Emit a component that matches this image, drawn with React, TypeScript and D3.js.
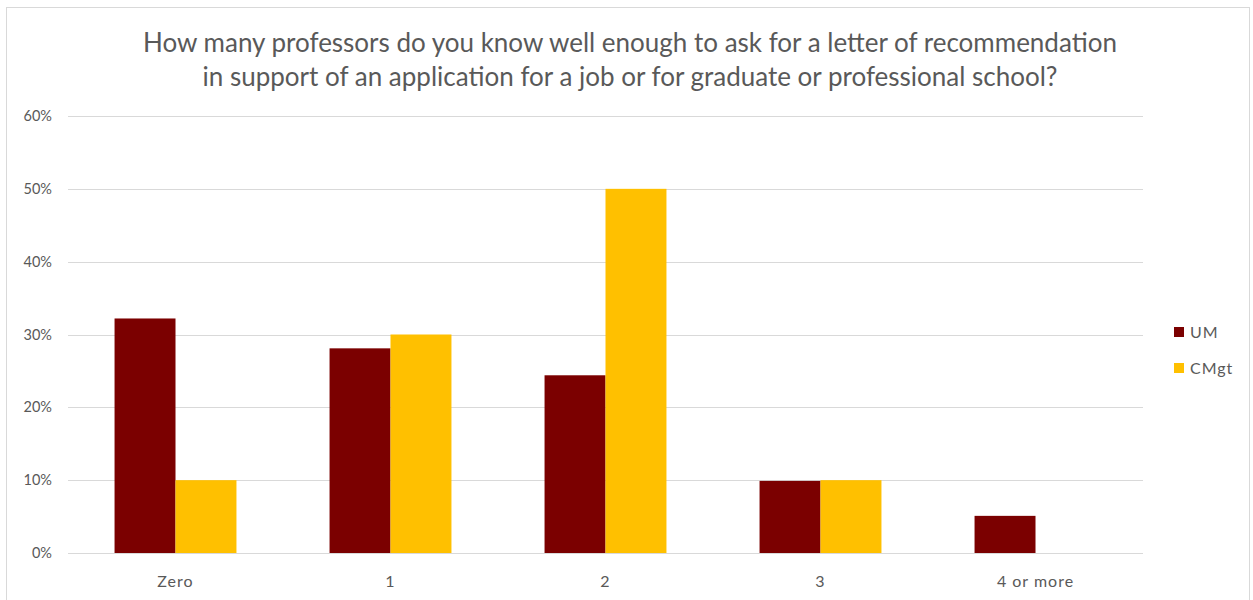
import * as d3 from 'd3';

const categories = ['Zero', '1', '2', '3', '4 or more'];
const seriesNames = ['UM', 'CMgt'];
const umValues = [0.322, 0.281, 0.244, 0.099, 0.051];
const cmgtValues = [0.1, 0.3, 0.5, 0.1, 0];
const yTicks = [0, 0.1, 0.2, 0.3, 0.4, 0.5, 0.6];
const titleLines = [
  'How many professors do you know well enough to ask for a letter of recommendation',
  'in support of an application for a job or for graduate or professional school?',
];
const colors = ['#7B0000', '#FFC000'];

const App = () => {
  const width = 1253;
  const height = 600;
  const left = 68;
  const right = 1143;
  const top = 116;
  const bottom = 553;

  const x = d3.scaleBand<string>()
    .domain(categories)
    .range([left, right])
    .paddingInner(0.433)
    .paddingOuter(0.2165);
  const xSeries = d3.scaleBand<string>()
    .domain(seriesNames)
    .range([0, x.bandwidth()]);
  const y = d3.scaleLinear().domain([0, 0.6]).range([bottom, top]);
  const fmt = d3.format('.0%');
  const series = [umValues, cmgtValues];
  const font = 'Lato, "Open Sans", sans-serif';

  return (
    <svg width={width} height={height} style={{ position: 'absolute', left: 0, top: 0 }} fontFamily={font}>
      <rect x={0} y={0} width={width} height={height} fill="#fff" />
      <rect x={6.5} y={7.5} width={1243} height={620} fill="#fff" stroke="#d9d9d9" />

      {titleLines.map((t, i) => (
        <text key={i} x={630} y={52 + i * 34} textAnchor="middle" fontSize={26} fill="#595959">{t}</text>
      ))}

      {yTicks.map(t => (
        <g key={t}>
          <line x1={left} x2={right} y1={Math.round(y(t)) + 0.5} y2={Math.round(y(t)) + 0.5} stroke="#d9d9d9" />
          <text x={52} y={y(t)} dy="0.35em" textAnchor="end" fontSize={14.5} fill="#595959">{fmt(t)}</text>
        </g>
      ))}

      {series.map((vals, si) => (
        <g key={si}>
          {categories.map((c, ci) => vals[ci] > 0 ? (
            <rect
              key={c}
              x={(x(c) ?? 0) + (xSeries(seriesNames[si]) ?? 0)}
              y={y(vals[ci])}
              width={xSeries.bandwidth()}
              height={y(0) - y(vals[ci])}
              fill={colors[si]}
            />
          ) : null)}
        </g>
      ))}

      {categories.map(c => (
        <text key={c} x={(x(c) ?? 0) + x.bandwidth() / 2} y={587} textAnchor="middle" fontSize={16} letterSpacing={1} fill="#595959">{c}</text>
      ))}

      {seriesNames.map((s, i) => (
        <g key={s} transform={`translate(1174, ${327 + i * 36})`}>
          <rect x={0} y={0} width={10} height={10} fill={colors[i]} />
          <text x={16} y={5} dy="0.35em" fontSize={16} letterSpacing={1} fill="#595959">{s}</text>
        </g>
      ))}
    </svg>
  );
};

export default App;
